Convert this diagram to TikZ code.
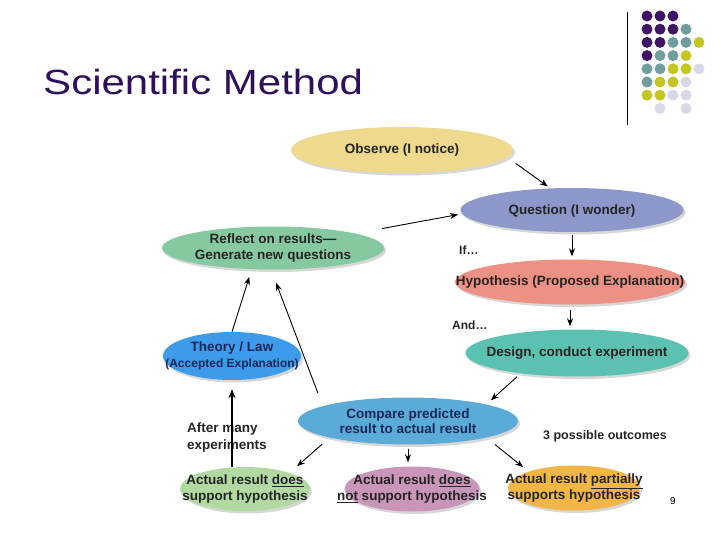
\documentclass[tikz,border=0pt]{standalone}
\usepackage{fontspec}
\setmainfont{Liberation Sans}
\usepackage{tikz}
\usepackage{xcolor}
\usetikzlibrary{arrows.meta,positioning,shapes.geometric,calc,shadows}

\definecolor{titlepurple}{HTML}{2D0F5C}
\definecolor{obsyellow}{HTML}{EFD98C}
\definecolor{queblue}{HTML}{8D97C9}
\definecolor{refgreen}{HTML}{86C9A0}
\definecolor{hypred}{HTML}{EC9183}
\definecolor{desteal}{HTML}{5BC2B2}
\definecolor{comblue}{HTML}{5BABD9}
\definecolor{thyblue}{HTML}{3D9BE9}
\definecolor{actgreen}{HTML}{B3D9A3}
\definecolor{actpink}{HTML}{C996B9}
\definecolor{actorange}{HTML}{F2B646}
\definecolor{ink}{HTML}{242424}
\definecolor{navyink}{HTML}{14285A}
\definecolor{dotpurple}{HTML}{3F1467}
\definecolor{dotteal}{HTML}{6E9E9F}
\definecolor{dotyellow}{HTML}{C6C623}
\definecolor{dotlight}{HTML}{D8D8E8}

\begin{document}
\begin{tikzpicture}[x=1pt,y=-1pt,
    bubble/.style={ellipse, inner sep=0pt, draw=none,
      drop shadow={shadow xshift=2pt, shadow yshift=-2.5pt, fill=black!35, opacity=.45}},
    txt/.style={align=center, inner sep=0pt, text=ink,
      font=\fontsize{13.5}{15.5}\selectfont\bfseries},
    link/.style={-{Stealth[length=8pt,width=6pt]}, line width=0.9pt},
    note/.style={inner sep=0pt, text=ink, font=\fontsize{12}{14}\selectfont\bfseries}]
    \useasboundingbox (0,0) rectangle (720,540);

    % Title and corner dots
    \node[anchor=base west, inner sep=0pt, xscale=1.2, text=titlepurple,
      font=\fontsize{35}{40}\selectfont] (title) at (43,95) {Scientific Method};
    \draw[line width=0.8pt] (627,12) -- (627,125);
    \foreach \c/\r/\col in {0/0/dotpurple, 1/0/dotpurple, 2/0/dotpurple,
        0/1/dotpurple, 1/1/dotpurple, 2/1/dotpurple, 3/1/dotteal,
        0/2/dotpurple, 1/2/dotpurple, 2/2/dotteal, 3/2/dotteal, 4/2/dotyellow,
        0/3/dotpurple, 1/3/dotteal, 2/3/dotteal, 3/3/dotyellow,
        0/4/dotteal, 1/4/dotteal, 2/4/dotyellow, 3/4/dotyellow, 4/4/dotlight,
        0/5/dotteal, 1/5/dotyellow, 2/5/dotyellow, 3/5/dotlight,
        0/6/dotyellow, 1/6/dotyellow, 2/6/dotlight, 3/6/dotlight,
        1/7/dotlight, 3/7/dotlight}
      \fill[\col] (647+13*\c, 16+13.2*\r) circle (5.5pt);

    % Steps
    \node[bubble, fill=obsyellow, minimum width=222pt, minimum height=46pt,
      label={[txt]center:Observe (I notice)}] (obs) at (402,150) {};
    \node[bubble, fill=queblue, minimum width=223pt, minimum height=44pt,
      label={[txt, yshift=-1.5pt]center:Question (I wonder)}] (que) at (572,210) {};
    \node[bubble, fill=refgreen, minimum width=222pt, minimum height=43pt,
      label={[txt]center:{Reflect on results—\\Generate new questions}}] (ref) at (273,248) {};
    \node[bubble, fill=hypred, minimum width=230pt, minimum height=45pt,
      label={[txt]center:Hypothesis (Proposed Explanation)}] (hyp) at (570,282) {};
    \node[bubble, fill=thyblue, minimum width=138pt, minimum height=48pt,
      label={[txt, text=navyink]center:{Theory / Law\\{\fontsize{12}{15}\selectfont(Accepted Explanation)}}}] (thy) at (232,356) {};
    \node[bubble, fill=desteal, minimum width=223pt, minimum height=47pt,
      label={[txt]center:Design, conduct experiment}] (des) at (577,353) {};
    \node[bubble, fill=comblue, minimum width=220pt, minimum height=47pt,
      label={[txt, text=navyink]center:{Compare predicted\\result to actual result}}] (com) at (408,421) {};

    % Outcomes
    \node[bubble, fill=actgreen, minimum width=130pt, minimum height=44pt,
      label={[txt]center:{Actual result \underline{does}\\support hypothesis}}] (acty) at (245,489) {};
    \node[bubble, fill=actpink, minimum width=135pt, minimum height=45pt,
      label={[txt]center:{Actual result \underline{does}\\\underline{not} support hypothesis}}] (actn) at (412,489) {};
    \node[bubble, fill=actorange, minimum width=132pt, minimum height=45pt,
      label={[txt]center:{Actual result \underline{partially}\\supports hypothesis}}] (actp) at (574,488) {};

    % Side notes
    \node[note, anchor=west] (ifnote) at (459,250) {If…};
    \node[note, anchor=west] (andnote) at (452,325) {And…};
    \node[note, anchor=west, align=left, font=\fontsize{13.5}{17}\selectfont\bfseries] (many) at (187,438) {After many\\experiments};
    \node[note, font=\fontsize{12.5}{14}\selectfont\bfseries] (three) at (605,436) {3 possible outcomes};
    \node[inner sep=0pt, font=\fontsize{10}{12}\selectfont] (pagenum) at (673,501) {9};

    % Arrows
    \draw[link, shorten <=10pt, shorten >=3pt] (obs.-4) -- (que.135);
    \draw[link, shorten <=27pt, shorten >=4pt] (ref.10) -- (que.182);
    \draw[link, shorten <=3pt, shorten >=3pt] (que.south) -- (que.south |- hyp.north);
    \draw[link, shorten <=5pt, shorten >=3pt] (hyp.south) -- (hyp.south |- des.north);
    \draw[link, shorten <=5pt, shorten >=6pt] (des.200) -- (com.12);
    \draw[link, shorten <=10pt, shorten >=10pt] (com.192) -- (acty.20);
    \draw[link, shorten <=4pt, shorten >=4pt] (com.south) -- (com.south |- actn.north);
    \draw[link, shorten <=11pt, shorten >=7pt] (com.-12) -- (actp.160);
    \draw[-{Stealth[length=9pt,width=7pt]}, line width=1.6pt, shorten >=9pt] (acty.north -| thy.south) -- (thy.south);
    \draw[link, shorten >=8pt] (thy.north) -- (ref.225);
    \draw[link, shorten <=14pt, shorten >=14pt] (com.170) -- (ref.265);

\end{tikzpicture}
\end{document}
